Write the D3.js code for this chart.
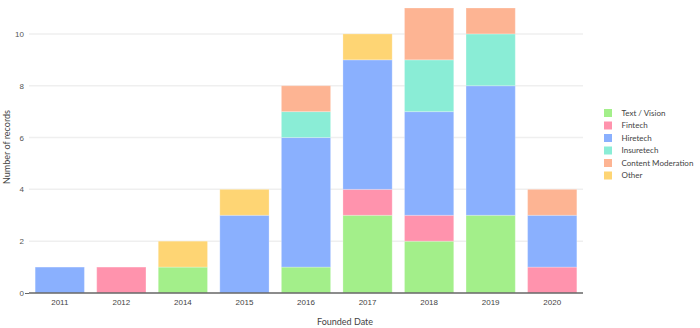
<!DOCTYPE html>
<html>
<head>
<meta charset="utf-8">
<script src="https://cdn.jsdelivr.net/npm/d3@7"></script>
<style>
  html, body { margin: 0; padding: 0; background: #fff; }
  svg { display: block; font-family: Lato, "Open Sans", sans-serif; }
</style>
</head>
<body>
<svg id="chart" width="700" height="328"></svg>
<script>
const years = ["2011", "2012", "2014", "2015", "2016", "2017", "2018", "2019", "2020"];
const seriesNames = ["Text / Vision", "Fintech", "Hiretech", "Insuretech", "Content Moderation", "Other"];
const textVision        = [0, 0, 1, 0, 1, 3, 2, 3, 0];
const fintech           = [0, 1, 0, 0, 0, 1, 1, 0, 1];
const hiretech          = [1, 0, 0, 3, 5, 5, 4, 5, 2];
const insuretech        = [0, 0, 0, 0, 1, 0, 2, 2, 0];
const contentModeration = [0, 0, 0, 0, 1, 0, 2, 1, 1];
const other             = [0, 0, 1, 1, 0, 1, 0, 0, 0];
const yTicks = [0, 2, 4, 6, 8, 10];
const colors = ["#a3ef8a", "#ff93ad", "#8ab0fe", "#8aedd6", "#fdb493", "#fed574"];

(function () {
const seriesValues = [textVision, fintech, hiretech, insuretech, contentModeration, other];
const table = years.map((yr, i) => {
  const row = { year: yr };
  seriesNames.forEach((s, k) => row[s] = seriesValues[k][i]);
  return row;
});

const svg = d3.select("#chart");
const mLeft = 29, mRight = 583, mTop = 8, mBottom = 293;

const x = d3.scaleBand().domain(years).range([mLeft, mRight]).paddingInner(0.2).paddingOuter(0.1);
const y = d3.scaleLinear().domain([0, 11]).range([mBottom, mTop]);

// gridlines
svg.append("g").selectAll("line").data(yTicks.filter(d => d > 0)).join("line")
  .attr("x1", mLeft).attr("x2", mRight)
  .attr("y1", d => y(d)).attr("y2", d => y(d))
  .attr("stroke", "#efefef").attr("stroke-width", 1.5);

// stacked bars
const stack = d3.stack().keys(seriesNames)(table);
const color = d3.scaleOrdinal().domain(seriesNames).range(colors);
svg.append("g").selectAll("g").data(stack).join("g")
  .attr("fill", d => color(d.key))
  .selectAll("rect").data(d => d.filter(p => p[1] - p[0] > 0)).join("rect")
  .attr("x", d => x(d.data.year))
  .attr("width", x.bandwidth())
  .attr("y", d => y(d[1]))
  .attr("height", d => y(d[0]) - y(d[1]))
  .attr("stroke", "#ffffff").attr("stroke-opacity", 0.25).attr("stroke-width", 1);

// y axis
const yAxis = svg.append("g").attr("transform", `translate(${mLeft},0)`)
  .call(d3.axisLeft(y).tickValues(yTicks).tickSize(0).tickPadding(5));
yAxis.select(".domain").remove();
yAxis.selectAll("text").attr("fill", "#555").style("font-size", "8px");
yAxis.selectAll(".tick").filter(d => d === 0).append("line")
  .attr("x1", -4).attr("x2", 0).attr("stroke", "#666").attr("stroke-width", 1);

// x axis
const xAxis = svg.append("g").attr("transform", `translate(0,${mBottom})`)
  .call(d3.axisBottom(x).tickSize(0).tickPadding(6));
xAxis.select(".domain").attr("stroke", "#666").attr("stroke-width", 1.5)
  .attr("d", `M${mLeft},0H${mRight}`);
xAxis.selectAll("text").attr("fill", "#444").style("font-size", "8px");

// axis titles
svg.append("text").attr("x", 345).attr("y", 325).attr("text-anchor", "middle")
  .attr("fill", "#444").style("font-size", "9px").text("Founded Date");
svg.append("text").attr("transform", "translate(10,147) rotate(-90)").attr("text-anchor", "middle")
  .attr("fill", "#444").style("font-size", "9px").text("Number of records");

// legend
const legend = svg.append("g").selectAll("g").data(seriesNames).join("g")
  .attr("transform", (d, i) => `translate(604,${109 + i * 12.5})`);
legend.append("rect").attr("width", 8).attr("height", 8).attr("fill", d => color(d));
legend.append("text").attr("x", 17.5).attr("y", 4).attr("dy", "0.35em")
  .attr("fill", "#444").style("font-size", "8px").text(d => d);
})();
</script>
</body>
</html>
